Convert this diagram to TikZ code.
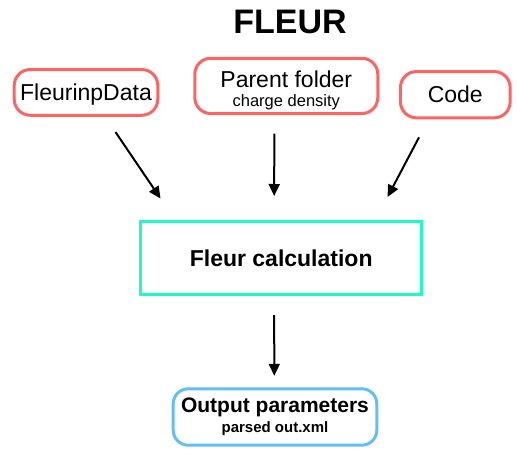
\documentclass[tikz,border=0pt]{standalone}
\usepackage{fontspec}
\setmainfont{Liberation Sans}
\usetikzlibrary{arrows.meta}
\definecolor{inred}{HTML}{FF6464}
\definecolor{calcgreen}{HTML}{1EFBC3}
\definecolor{outblue}{HTML}{64BEF5}

\begin{document}
\begin{tikzpicture}[x=1pt,y=-1pt,
    inputbox/.style={draw=inred, line width=3pt, rounded corners=16pt, inner sep=0pt,
        font=\fontsize{23}{23}\selectfont},
    calcbox/.style={draw=calcgreen, line width=3pt, inner sep=0pt,
        font=\bfseries\fontsize{23}{23}\selectfont},
    outputbox/.style={draw=outblue, line width=3pt, rounded corners=15pt, inner sep=0pt,
        align=center, font=\bfseries\fontsize{15}{20}\selectfont},
    flow/.style={line width=2pt, -{Triangle[length=12pt,width=11pt]}}]
    \useasboundingbox (0,0) rectangle (517,455);
    \node (title) at (290,33) [anchor=base, font=\bfseries\fontsize{34}{34}\selectfont]
            {FLEUR};
    \node (data) at (86,92.4) [inputbox, minimum width=143.6pt, minimum height=45.7pt,
            text height=15.8pt, text depth=0pt]
            {FleurinpData};
    \node (parent) at (286.3,85.9) [inputbox, minimum width=183pt, minimum height=55.3pt,
            align=center, font=\fontsize{16.5}{19}\selectfont]
            {\rule{0pt}{25.5pt}{\fontsize{23}{19}\selectfont Parent folder}\\charge density};
    \node (code) at (455.3,94.7) [inputbox, minimum width=109.7pt, minimum height=46.3pt,
            text height=15.8pt, text depth=0pt]
            {Code};
    \node (calc) at (281.2,258) [calcbox, minimum width=281.3pt, minimum height=73pt,
            text height=16.5pt, text depth=0pt]
            {Fleur calculation};
    \node (out) at (275,417) [outputbox, minimum width=203.6pt, minimum height=56.4pt]
            {{\fontsize{21}{20}\selectfont Output parameters}\\parsed out.xml};

    \draw[flow] ([xshift=29.5pt,yshift=-15.3pt]data.south)
            -- ([xshift=21.5pt,yshift=21.5pt]calc.north west);
    \draw[flow] ([xshift=-12pt,yshift=-18.5pt]parent.south)
            -- ([xshift=-7pt,yshift=24pt]calc.north);
    \draw[flow] ([xshift=-36.3pt,yshift=-18pt]code.south)
            -- ([xshift=-35.8pt,yshift=23pt]calc.north east);
    \draw[flow] ([xshift=-7pt,yshift=-19pt]calc.south)
            -- ([xshift=-0.7pt,yshift=11.5pt]out.north);
\end{tikzpicture}
\end{document}
